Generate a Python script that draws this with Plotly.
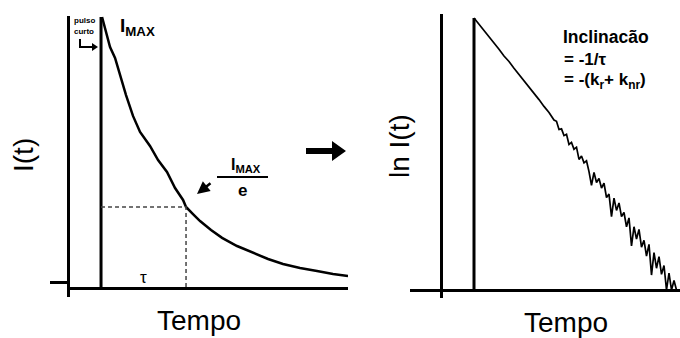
import plotly.graph_objects as go

W, H = 680, 338

# ---------------- data ----------------
# Left panel: fluorescence decay I(t) after a short pulse
PULSE_L = 0.365                      # time of the short excitation pulse
I_MAX = 1.0
DECAY_DT = [0.012, 0.059, 0.106, 0.165, 0.224, 0.294, 0.376, 0.459, 0.576, 0.671,
            0.776, 0.871, 0.965, 1.0, 1.082, 1.165, 1.294, 1.424, 1.6, 1.788,
            1.965, 2.141, 2.341, 2.541, 2.729, 2.906]
DECAY_I = [1.0, 0.945, 0.889, 0.849, 0.786, 0.712, 0.635, 0.576, 0.524, 0.472,
           0.428, 0.369, 0.325, 0.299, 0.273, 0.247, 0.214, 0.185, 0.155, 0.129,
           0.107, 0.0886, 0.0738, 0.0627, 0.0517, 0.0443]
TAU = 1.0
I_TAU = 0.299                        # I_MAX / e
BASE_TICK = [0.022]

# Right panel: ln I(t)
PULSE_R = 0.66
LN_MAX = 4.0
LN_DT = [0.0, 0.1, 0.2, 0.3, 0.4, 0.5, 0.6, 0.7, 0.8, 0.9, 1.0, 1.1, 1.2, 1.3, 1.4, 1.5, 1.6,
         1.65, 1.70, 1.75, 1.80, 1.85, 1.90, 1.95, 2.00, 2.05, 2.10, 2.15, 2.20, 2.25, 2.30,
         2.35, 2.40, 2.45, 2.50, 2.55, 2.60, 2.65, 2.70, 2.75, 2.80, 2.85, 2.90, 2.95, 3.00,
         3.05, 3.10, 3.15, 3.20, 3.25, 3.30, 3.35, 3.40, 3.45, 3.50, 3.55, 3.60, 3.65, 3.70,
         3.75, 3.80, 3.85, 3.90, 3.95, 4.00, 4.05]
LN_I = [4.0, 3.91, 3.82, 3.72, 3.63, 3.54, 3.44, 3.36, 3.26, 3.17, 3.07, 2.98, 2.89, 2.80, 2.70, 2.61, 2.50,
        2.48, 2.36, 2.37, 2.27, 2.29, 2.14, 2.17, 2.07, 2.10, 1.92, 1.97, 1.87, 1.90, 1.74,
        1.54, 1.73, 1.58, 1.64, 1.50, 1.57, 1.36, 1.41, 1.08, 1.35, 1.17, 1.28, 1.08, 1.14,
        0.93, 1.06, 0.65, 0.93, 0.75, 0.89, 0.63, 0.73, 0.50, 0.67, 0.22, 0.55, 0.32, 0.49,
        0.23, 0.36, 0.0, 0.25, 0.0, 0.14, 0.0]

FONT = "Liberation Sans"


def px(x):
    return x / W


def py(y):
    return 1 - y / H


fig = go.Figure()
blk = "black"

# left panel
fig.add_trace(go.Scatter(x=[PULSE_L, PULSE_L], y=[0, I_MAX], mode="lines",
                         line=dict(color=blk, width=3), xaxis="x", yaxis="y"))
fig.add_trace(go.Scatter(x=[PULSE_L + d for d in DECAY_DT], y=DECAY_I, mode="lines",
                         line=dict(color=blk, width=2.5), xaxis="x", yaxis="y"))
fig.add_trace(go.Scatter(x=[PULSE_L, PULSE_L + TAU, PULSE_L + TAU], y=[I_TAU, I_TAU, 0],
                         mode="lines", line=dict(color="#444", width=1.5, dash="4px,3px"),
                         xaxis="x", yaxis="y"))
# right panel
fig.add_trace(go.Scatter(x=[PULSE_R, PULSE_R], y=[0, LN_MAX], mode="lines",
                         line=dict(color=blk, width=3), xaxis="x2", yaxis="y2"))
fig.add_trace(go.Scatter(x=[PULSE_R + d for d in LN_DT], y=LN_I, mode="lines",
                         line=dict(color=blk, width=1.7), xaxis="x2", yaxis="y2"))

noax = dict(showgrid=False, showticklabels=False, ticks="", showline=False, zeroline=False, fixedrange=True)

layout = dict(
    width=W, height=H, autosize=False,
    margin=dict(l=0, r=0, t=0, b=0),
    paper_bgcolor="white", plot_bgcolor="rgba(0,0,0,0)",
    showlegend=False,
    xaxis=dict(noax, domain=[px(70), px(348)], range=[0, 278 / 85], anchor="y"),
    yaxis=dict(noax, domain=[py(297), py(16)], range=[-9 / 271, 272 / 271], anchor="x",
               showline=True, linewidth=3, linecolor=blk,
               ticks="outside", tickvals=BASE_TICK, ticklen=17, tickwidth=2.5, tickcolor=blk,
               zeroline=True, zerolinewidth=3, zerolinecolor=blk),
    xaxis2=dict(noax, domain=[px(410), 1.0], range=[-31 / 50, 239 / 50], anchor="y2",
                zeroline=True, zerolinewidth=3, zerolinecolor=blk),
    yaxis2=dict(noax, domain=[py(298), py(14)], range=[-8 / 68, 276 / 68], anchor="x2",
                zeroline=True, zerolinewidth=3, zerolinecolor=blk),
)
fig.update_layout(**layout)

ann = []


def text(t, x, y, size, xa="center", ya="middle", angle=0):
    ann.append(dict(text=t, x=px(x), y=py(y), xref="paper", yref="paper", showarrow=False,
                    xanchor=xa, yanchor=ya, textangle=angle,
                    font=dict(family=FONT, size=size, color=blk)))


text("I(t)", 23, 155, 28, angle=-90)
text("ln I(t)", 399, 146, 28, angle=-90)
text("Tempo", 199, 320, 28)
text("Tempo", 566, 322, 28)
text("τ", 143, 277, 17)
text("<b>I<sub>MAX</sub></b>", 118, 27, 19, xa="left")
text("<b>pulso</b>", 84, 21, 8)
text("<b>curto</b>", 84, 31, 8)
text("<b>I<sub>MAX</sub></b>", 229, 177, 16, xa="left", ya="bottom")
text("<b>e</b>", 242, 179, 17, ya="top")
text("<b>Inclinacão</b>", 561, 37, 17.5, xa="left")
text("<b>= -1/τ</b>", 562, 59, 17, xa="left")
text("<b>= -(k<sub>r</sub>+ k<sub>nr</sub>)</b>", 562, 81, 17, xa="left")

# small arrow pointing at the curve at I_MAX/e
ann.append(dict(text="", x=px(197), y=py(194), xref="paper", yref="paper",
                ax=15, ay=-12, axref="pixel", ayref="pixel", showarrow=True,
                arrowhead=2, arrowsize=1, arrowwidth=2.5, arrowcolor=blk))
fig.update_layout(annotations=ann)


def path(pts, close=True):
    s = "M " + " L ".join(f"{px(a):.5f},{py(b):.5f}" for a, b in pts)
    return s + (" Z" if close else "")


shapes = [
    # fraction bar
    dict(type="line", xref="paper", yref="paper", x0=px(217), x1=px(268), y0=py(177), y1=py(177),
         line=dict(color=blk, width=2)),
    # big arrow between panels
    dict(type="path", xref="paper", yref="paper",
         path=path([(306, 148), (332, 148), (332, 141), (346, 151), (332, 161), (332, 154), (306, 154)]),
         fillcolor=blk, line=dict(color=blk, width=0)),
    # bent arrow "pulso curto"
    dict(type="path", xref="paper", yref="paper",
         path=path([(80, 39), (80, 47), (92, 47)], close=False),
         line=dict(color=blk, width=2)),
    dict(type="path", xref="paper", yref="paper",
         path=path([(92, 43), (98, 47), (92, 51)]),
         fillcolor=blk, line=dict(color=blk, width=0)),
]
fig.update_layout(shapes=shapes)

fig.write_html("out.html")
